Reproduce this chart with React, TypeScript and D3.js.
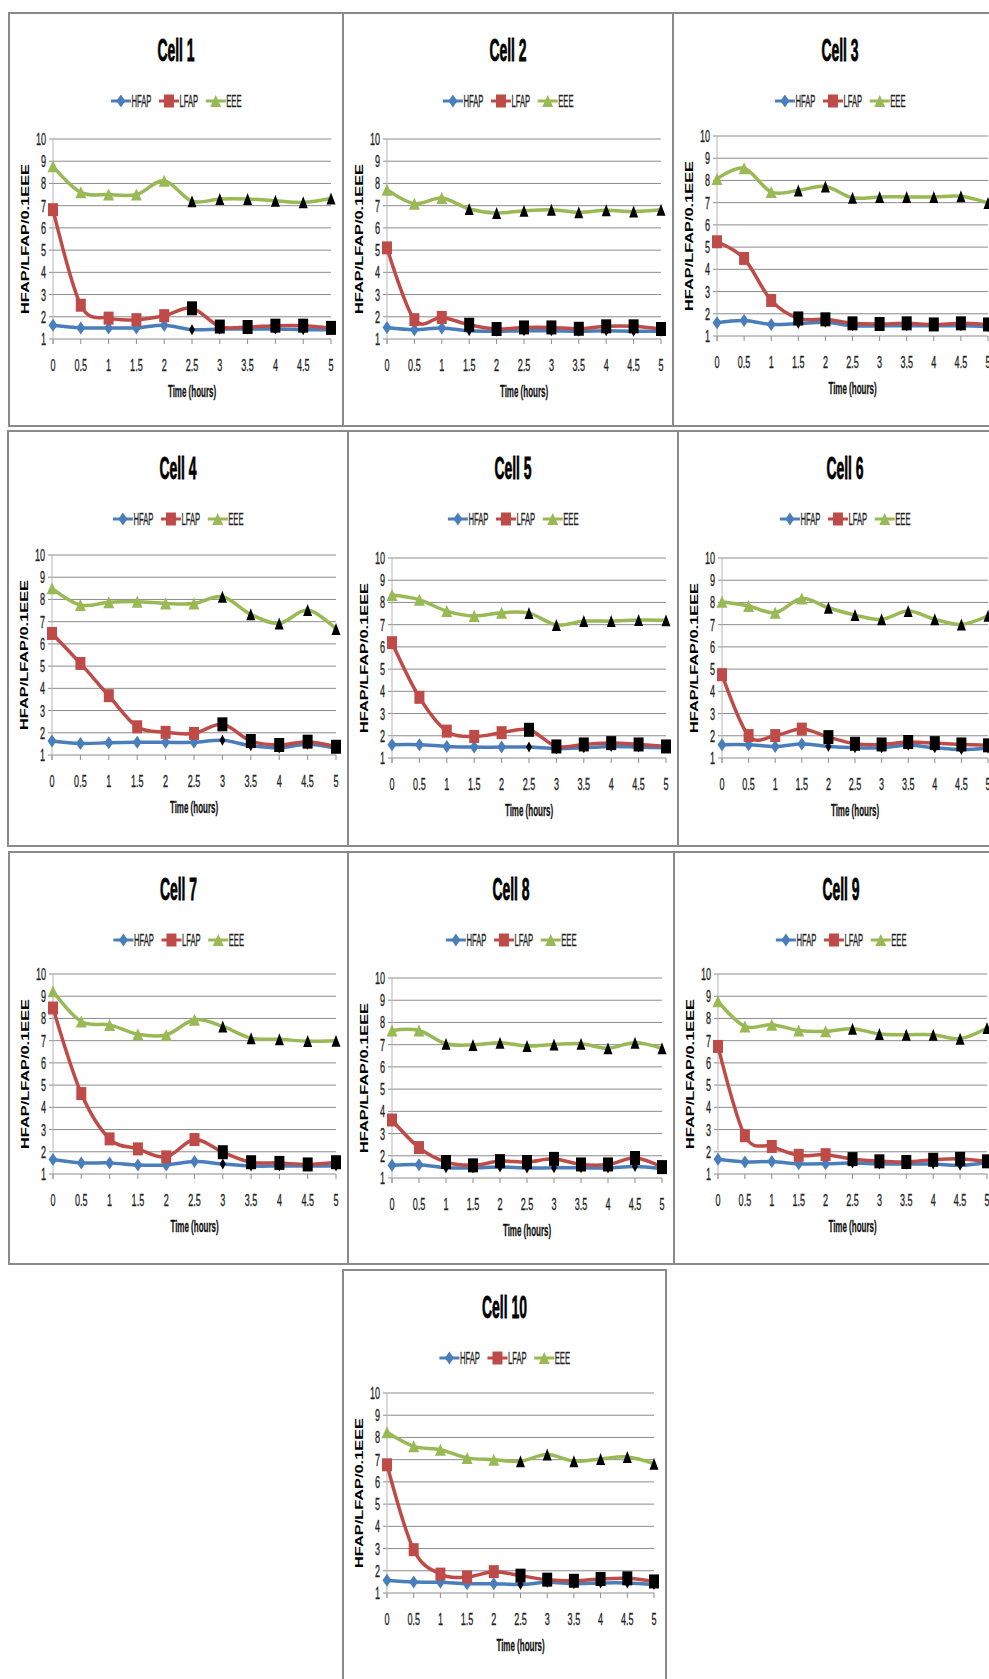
import React from "react";
import * as d3 from "d3";

// time points (hours) on the category axis
const hours = [0, 0.5, 1, 1.5, 2, 2.5, 3, 3.5, 4, 4.5, 5];
const hourLabels = ["0", "0.5", "1", "1.5", "2", "2.5", "3", "3.5", "4", "4.5", "5"];
const yTicks = [1, 2, 3, 4, 5, 6, 7, 8, 9, 10];
const cellTitles = ["Cell 1", "Cell 2", "Cell 3", "Cell 4", "Cell 5", "Cell 6", "Cell 7", "Cell 8", "Cell 9", "Cell 10"];
const seriesNames = ["HFAP", "LFAP", "EEE"];
const seriesColors = ["#4a7ebb", "#be4b48", "#98b954"];

// one list per cell
const hfap = [
  [1.62, 1.5, 1.5, 1.5, 1.62, 1.42, 1.45, 1.45, 1.45, 1.42, 1.42],
  [1.52, 1.42, 1.5, 1.37, 1.35, 1.37, 1.37, 1.35, 1.37, 1.35, 1.35],
  [1.6, 1.7, 1.52, 1.56, 1.62, 1.46, 1.46, 1.46, 1.46, 1.46, 1.42],
  [1.63, 1.52, 1.55, 1.57, 1.57, 1.57, 1.66, 1.42, 1.32, 1.48, 1.3],
  [1.6, 1.6, 1.52, 1.49, 1.49, 1.49, 1.42, 1.46, 1.52, 1.49, 1.46],
  [1.6, 1.6, 1.52, 1.63, 1.52, 1.46, 1.46, 1.57, 1.46, 1.38, 1.45],
  [1.65, 1.5, 1.5, 1.41, 1.41, 1.56, 1.45, 1.36, 1.36, 1.36, 1.36],
  [1.57, 1.6, 1.46, 1.45, 1.49, 1.45, 1.46, 1.46, 1.45, 1.52, 1.42],
  [1.66, 1.54, 1.56, 1.46, 1.46, 1.49, 1.45, 1.45, 1.45, 1.39, 1.52],
  [1.57, 1.49, 1.48, 1.42, 1.42, 1.38, 1.48, 1.42, 1.45, 1.45, 1.38],
];
const lfap = [
  [6.82, 2.52, 1.94, 1.87, 2.05, 2.38, 1.56, 1.54, 1.6, 1.6, 1.5],
  [5.1, 1.87, 1.97, 1.64, 1.45, 1.52, 1.52, 1.46, 1.57, 1.57, 1.45],
  [5.24, 4.49, 2.6, 1.79, 1.75, 1.57, 1.54, 1.57, 1.52, 1.57, 1.52],
  [6.47, 5.12, 3.67, 2.27, 2.02, 1.97, 2.38, 1.63, 1.45, 1.6, 1.37],
  [6.19, 3.73, 2.21, 1.97, 2.14, 2.27, 1.52, 1.61, 1.67, 1.61, 1.52],
  [4.75, 2.01, 2.01, 2.3, 1.94, 1.64, 1.61, 1.72, 1.67, 1.61, 1.57],
  [8.47, 4.62, 2.58, 2.13, 1.77, 2.55, 1.98, 1.53, 1.5, 1.43, 1.53],
  [3.61, 2.37, 1.72, 1.57, 1.76, 1.72, 1.86, 1.61, 1.61, 1.9, 1.49],
  [6.74, 2.72, 2.24, 1.84, 1.87, 1.67, 1.57, 1.54, 1.64, 1.68, 1.57],
  [6.77, 2.95, 1.85, 1.72, 1.96, 1.78, 1.6, 1.55, 1.63, 1.66, 1.52],
];
const eee = [
  [8.77, 7.6, 7.5, 7.5, 8.12, 7.2, 7.3, 7.3, 7.22, 7.15, 7.32],
  [7.72, 7.09, 7.34, 6.85, 6.67, 6.77, 6.82, 6.7, 6.79, 6.74, 6.82],
  [8.07, 8.55, 7.48, 7.55, 7.73, 7.22, 7.26, 7.26, 7.26, 7.29, 6.99],
  [8.5, 7.75, 7.87, 7.9, 7.82, 7.82, 8.12, 7.33, 6.92, 7.52, 6.67],
  [8.33, 8.12, 7.61, 7.39, 7.54, 7.52, 6.99, 7.16, 7.16, 7.21, 7.2],
  [8.03, 7.84, 7.54, 8.18, 7.76, 7.43, 7.24, 7.61, 7.24, 7.01, 7.4],
  [9.22, 7.86, 7.71, 7.29, 7.26, 7.94, 7.64, 7.11, 7.06, 6.98, 7.0],
  [7.64, 7.64, 7.04, 6.99, 7.09, 6.94, 7.01, 7.04, 6.84, 7.09, 6.84],
  [8.77, 7.64, 7.72, 7.46, 7.42, 7.54, 7.3, 7.27, 7.27, 7.09, 7.57],
  [8.23, 7.6, 7.45, 7.08, 7.0, 6.93, 7.23, 6.93, 7.03, 7.12, 6.82],
];
// hour from which the markers are drawn black
const blackFrom = [2.5, 1.5, 1.5, 3, 2.5, 2, 3, 1, 2.5, 2.5];

// panel frames on the page
const frames = [
  { x: 9, y: 13, w: 334, h: 413, top: 126 },
  { x: 343, y: 13, w: 330, h: 413, top: 126 },
  { x: 673, y: 13, w: 327, h: 413, top: 123 },
  { x: 8, y: 431, w: 340, h: 415, top: 124 },
  { x: 348, y: 431, w: 330, h: 415, top: 127 },
  { x: 678, y: 431, w: 322, h: 415, top: 127 },
  { x: 9, y: 852, w: 339, h: 412, top: 122 },
  { x: 348, y: 852, w: 326, h: 412, top: 126 },
  { x: 674, y: 852, w: 325, h: 412, top: 122 },
  { x: 343, y: 1270, w: 323, h: 420, top: 123 },
];

const W = 989;
const H = 1679;
const FONT = "'Liberation Sans', Arial, sans-serif";

const sq = (x: number, y: number, s: number) => `translate(${x},${y}) scale(${s},1)`;

const diamond = (w: number, h: number) => `M0,${-h / 2}L${w / 2},0L0,${h / 2}L${-w / 2},0Z`;
const square = (w: number, h: number) => `M${-w / 2},${-h / 2}h${w}v${h}h${-w}Z`;
const triangle = (w: number, h: number) => `M0,${-h / 2}L${w / 2},${h / 2}L${-w / 2},${h / 2}Z`;

const colorMarks = [diamond(9, 13), square(10, 13), triangle(11, 12)];
const blackMarks = [diamond(6, 11), square(10, 14), triangle(9, 12)];

let ctx: CanvasRenderingContext2D | null = null;
function textW(t: string, font: string) {
  if (!ctx) ctx = document.createElement("canvas").getContext("2d");
  if (!ctx) return t.length * 8;
  ctx.font = font;
  return ctx.measureText(t).width;
}

const LEG_FONT = 16;
const LEG_S = 0.48;

function Panel({ i }: { i: number }) {
  const f = frames[i];
  const x0 = f.x + 44;
  const x1 = f.x + f.w - 12;
  const yTop = f.y + f.top;
  const yBot = yTop + 200;
  const x = d3.scaleLinear().domain([0, 5]).range([x0, x1]);
  const y = d3.scaleLinear().domain([1, 10]).range([yBot, yTop]);
  const line = d3
    .line<number>()
    .x((_, k) => x(hours[k]))
    .y((v) => y(v))
    .curve(d3.curveCardinal.tension(0));
  const series = [hfap[i], lfap[i], eee[i]];
  const cx = i % 3 === 2 ? f.x + 334 / 2 : f.x + f.w / 2;

  // legend layout
  const widths = seriesNames.map((n) => textW(n, `${LEG_FONT}px ${FONT}`) * LEG_S);
  const itemW = widths.map((w) => 20 + w + 8);
  const total = d3.sum(itemW) - 8;
  let lx = cx - total / 2;
  const legY = f.y + 88;
  const legend = seriesNames.map((n, k) => {
    const start = lx;
    lx += itemW[k];
    return (
      <g key={n}>
        <line x1={start} x2={start + 20} y1={legY} y2={legY} stroke={seriesColors[k]} strokeWidth={3} />
        <path d={colorMarks[k]} transform={`translate(${start + 10},${legY})`} fill={seriesColors[k]} />
        <text
          transform={sq(start + 20.5, legY + 5.8, LEG_S)}
          fontFamily={FONT}
          fontSize={LEG_FONT}
          fill="#222"
          stroke="#222"
          strokeWidth={0.3}
        >
          {n}
        </text>
      </g>
    );
  });

  const plotMid = (yTop + yBot) / 2;

  return (
    <g>
      <rect x={f.x} y={f.y} width={f.w} height={f.h} fill="#fff" stroke="#8a8a8a" strokeWidth={2} />
      <text
        transform={sq(cx, f.y + 48, 0.45)}
        textAnchor="middle"
        fontFamily={FONT}
        fontWeight="bold"
        fontSize={31}
        fill="#000"
        stroke="#000"
        strokeWidth={0.8}
      >
        {cellTitles[i]}
      </text>
      {legend}
      {/* grid */}
      {yTicks.map((t) => (
        <g key={t}>
          <line x1={x0} x2={x1} y1={y(t)} y2={y(t)} stroke="#8c8c8c" strokeWidth={1} />
          <line x1={x0 - 4} x2={x0} y1={y(t)} y2={y(t)} stroke="#8c8c8c" strokeWidth={1} />
          <text
            transform={sq(x0 - 7, y(t) + 6, 0.55)}
            textAnchor="end"
            fontFamily={FONT}
            fontSize={16.5}
            fill="#222"
            stroke="#222"
            strokeWidth={0.3}
          >
            {t}
          </text>
        </g>
      ))}
      <line x1={x0} x2={x0} y1={yTop} y2={yBot + 5} stroke="#b5b5b5" strokeWidth={1} />
      {hours.map((h, k) => (
        <g key={h}>
          <line x1={x(h)} x2={x(h)} y1={yBot} y2={yBot + 5} stroke="#8c8c8c" strokeWidth={1} />
          <text
            transform={sq(x(h), yBot + 32, 0.55)}
            textAnchor="middle"
            fontFamily={FONT}
            fontSize={16.5}
            fill="#222"
            stroke="#222"
            strokeWidth={0.3}
          >
            {hourLabels[k]}
          </text>
        </g>
      ))}
      <text
        transform={sq((x0 + x1) / 2, yBot + 58, 0.5)}
        textAnchor="middle"
        fontFamily={FONT}
        fontWeight="bold"
        fontSize={16}
        fill="#111"
        stroke="#111"
        strokeWidth={0.3}
      >
        Time (hours)
      </text>
      <text
        transform={`translate(${f.x + 20},${plotMid}) scale(0.7,1) rotate(-90)`}
        textAnchor="middle"
        fontFamily={FONT}
        fontWeight="bold"
        fontSize={15}
        textLength={150}
        lengthAdjust="spacingAndGlyphs"
        fill="#000"
      >
        HFAP/LFAP/0.1EEE
      </text>
      {/* series */}
      {series.map((vals, k) => (
        <g key={k}>
          <path d={line(vals) || ""} fill="none" stroke={seriesColors[k]} strokeWidth={3.5} strokeLinejoin="round" />
          {vals.map((v, j) =>
            hours[j] < blackFrom[i] ? (
              <path key={j} d={colorMarks[k]} transform={`translate(${x(hours[j])},${y(v)})`} fill={seriesColors[k]} />
            ) : null
          )}
        </g>
      ))}
      {series.map((vals, k) => (
        <g key={"b" + k}>
          {vals.map((v, j) =>
            hours[j] >= blackFrom[i] ? (
              <path key={j} d={blackMarks[k]} transform={`translate(${x(hours[j])},${y(v)})`} fill="#000" />
            ) : null
          )}
        </g>
      ))}
    </g>
  );
}

export default function App() {
  return (
    <svg
      width={W}
      height={H}
      viewBox={`0 0 ${W} ${H}`}
      style={{ position: "absolute", left: 0, top: 0, background: "#fff" }}
    >
      <rect width={W} height={H} fill="#fff" />
      {frames.map((_, i) => (
        <Panel key={i} i={i} />
      ))}
    </svg>
  );
}
